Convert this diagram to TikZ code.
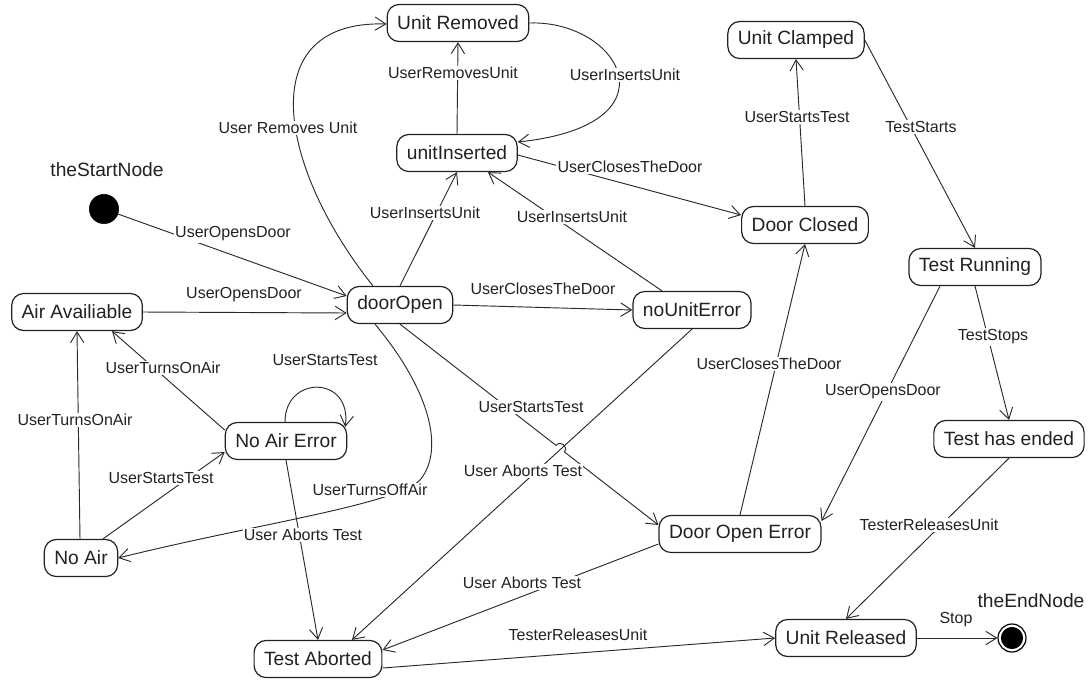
\documentclass[tikz,border=0pt]{standalone}
\usepackage{fontspec}
\setmainfont{Liberation Sans}
\usetikzlibrary{arrows.meta,calc}
\definecolor{ink}{HTML}{222222}
\definecolor{edge}{HTML}{2a2a2a}
\tikzset{
  st/.style={draw=ink, line width=0.9pt, rounded corners=9pt, minimum height=27.8pt,
    inner xsep=7.5pt, inner ysep=2pt, font=\fontsize{14.4}{16}\selectfont, text=ink, fill=white},
  lbl/.style={fill=white, inner sep=1pt, font=\fontsize{12}{14}\selectfont, text=ink},
  tr/.style={draw=edge, line width=0.7pt, -{Straight Barb[length=8pt,width=10pt]}},
  captxt/.style={font=\fontsize{14.4}{16}\selectfont, text=ink, inner sep=1pt}
}
\begin{document}
\begin{tikzpicture}[x=0.75pt, y=-0.75pt]
\path[use as bounding box, fill=white] (0,0) rectangle (1090,683);

% states
\node[st] (UR)   at (458,23)  {Unit Removed};
\node[st] (UI)   at (457,153) {unitInserted};
\node[st] (UC)   at (796,40)  {Unit Clamped};
\node[st] (DC)   at (805,225) {Door Closed};
\node[st] (TR)   at (975,267) {Test Running};
\node[st] (DO)   at (400,305) {doorOpen};
\node[st] (AA)   at (77,312)  {Air Availiable};
\node[st] (NUE)  at (692,310) {noUnitError};
\node[st] (NAE)  at (286,441) {No Air Error};
\node[st] (THE)  at (1009,439) {Test has ended};
\node[st] (DOE)  at (740,534) {Door Open Error};
\node[st] (NA)   at (81,558)  {No Air};
\node[st] (TA)   at (318,659) {Test Aborted};
\node[st] (URel) at (846,638) {Unit Released};

\node[circle, fill=black, draw=black, minimum size=22pt, inner sep=0] (start) at (104,209) {};
\node[circle, draw=black, line width=0.9pt, minimum size=21pt, inner sep=0,
  path picture={\fill[black] (path picture bounding box.center) circle (8.3pt);}] (end) at (1012,638) {};
\node[captxt] (startcap) at (107,170) {theStartNode};
\node[captxt] (endcap) at (1031,601) {theEndNode};

% helper coordinates
\coordinate (doeIn) at ($(DOE.west)+(0,-9)$);
\coordinate (doS) at (DO.south);

% transitions
\draw[tr] (start) -- ($(DO.west)+(0,-9)$);
\draw[tr] (AA.east) -- ($(DO.west)+(0,8)$);
\draw[tr] (DO.north) -- (UI.south);
\draw[tr] (UI.north) -- (UR.south);
\draw[tr] (UR.east) .. controls (620,20) and (680,125) .. ($(UI.east)+(0,-11)$);
\draw[tr] ($(UI.east)+(0,2)$) -- ($(DC.west)+(0,-10)$);
\draw[tr] ($(NUE.north)+(-30,0)$) -- ($(UI.south)+(31,0)$);
\draw[tr] (DO.east) -- (NUE.west);
\draw[tr] ($(DO.north)+(-27,0)$) .. controls (280,170) and (250,20) .. ($(UR.west)+(0,1)$);
\draw[tr] ($(DO.south)+(-25,0)$) .. controls (430,390) and (445,450) .. (420,480)
          .. controls (395,505) and (250,525) .. (NA.east);
\draw[tr] (NAE.south) -- (TA.north);
\draw[tr] ($(NAE.north)+(-1,0)$) .. controls (285,375) and (352,375) .. ($(NAE.north east)+(-2,5)$);
\draw[tr] ($(NA.north)+(-1,0)$) -- (AA.south);
\draw[tr] ($(NAE.west)+(0,-11)$) -- ($(AA.south)+(35,0)$);
\draw[tr] ($(NA.north)+(22,0)$) -- ($(NAE.west)+(0,11)$);
\draw[tr] (doS) -- ($(doS)!0.604!(doeIn)$) to[bend left=90, looseness=1.7] ($(doS)!0.636!(doeIn)$) -- (doeIn);
\draw[tr] (NUE.south) -- ($(TA.north)+(34,0)$);
\draw[tr] ($(DOE.west)+(0,10)$) -- ($(TA.east)+(0,-9)$);
\draw[tr] (DOE.north) -- (DC.south);
\draw[tr] (DC.north) -- (UC.south);
\draw[tr] (UC.east) -- (TR.north);
\draw[tr] (TR.south) -- (THE.north);
\draw[tr] ($(TR.south)+(-35,0)$) -- ($(DOE.east)+(0,-13)$);
\draw[tr] (THE.south) -- (URel.north);
\draw[tr] ($(TA.east)+(0,9)$) -- (URel.west);
\draw[tr] (URel.east) -- (end);

% labels
\node[lbl] (l1)  at (233,234) {UserOpensDoor};
\node[lbl] (l2)  at (244,295) {UserOpensDoor};
\node[lbl] (l3)  at (425,213) {UserInsertsUnit};
\node[lbl] (l4)  at (453,73)  {UserRemovesUnit};
\node[lbl] (l5)  at (625,75)  {UserInsertsUnit};
\node[lbl] (l6)  at (630,167) {UserClosesTheDoor};
\node[lbl] (l7)  at (572,217) {UserInsertsUnit};
\node[lbl] (l8)  at (543,289) {UserClosesTheDoor};
\node[lbl] (l9)  at (288,128) {User Removes Unit};
\node[lbl] (l10) at (370,490) {UserTurnsOffAir};
\node[lbl] (l11) at (303,535) {User Aborts Test};
\node[lbl] (l12) at (325,360) {UserStartsTest};
\node[lbl] (l13) at (75,420)  {UserTurnsOnAir};
\node[lbl] (l14) at (163,368) {UserTurnsOnAir};
\node[lbl] (l15) at (161,478) {UserStartsTest};
\node[lbl] (l16) at (531,407) {UserStartsTest};
\node[lbl] (l17) at (523,471) {User Aborts Test};
\node[lbl] (l18) at (522,583) {User Aborts Test};
\node[lbl] (l19) at (769,364) {UserClosesTheDoor};
\node[lbl] (l20) at (797,117) {UserStartsTest};
\node[lbl] (l21) at (921,127) {TestStarts};
\node[lbl] (l22) at (993,337) {TestStops};
\node[lbl] (l23) at (883,392) {UserOpensDoor};
\node[lbl] (l24) at (929,525) {TesterReleasesUnit};
\node[lbl] (l25) at (578,635) {TesterReleasesUnit};
\node[lbl] (l26) at (956,620) {Stop};
\end{tikzpicture}
\end{document}
